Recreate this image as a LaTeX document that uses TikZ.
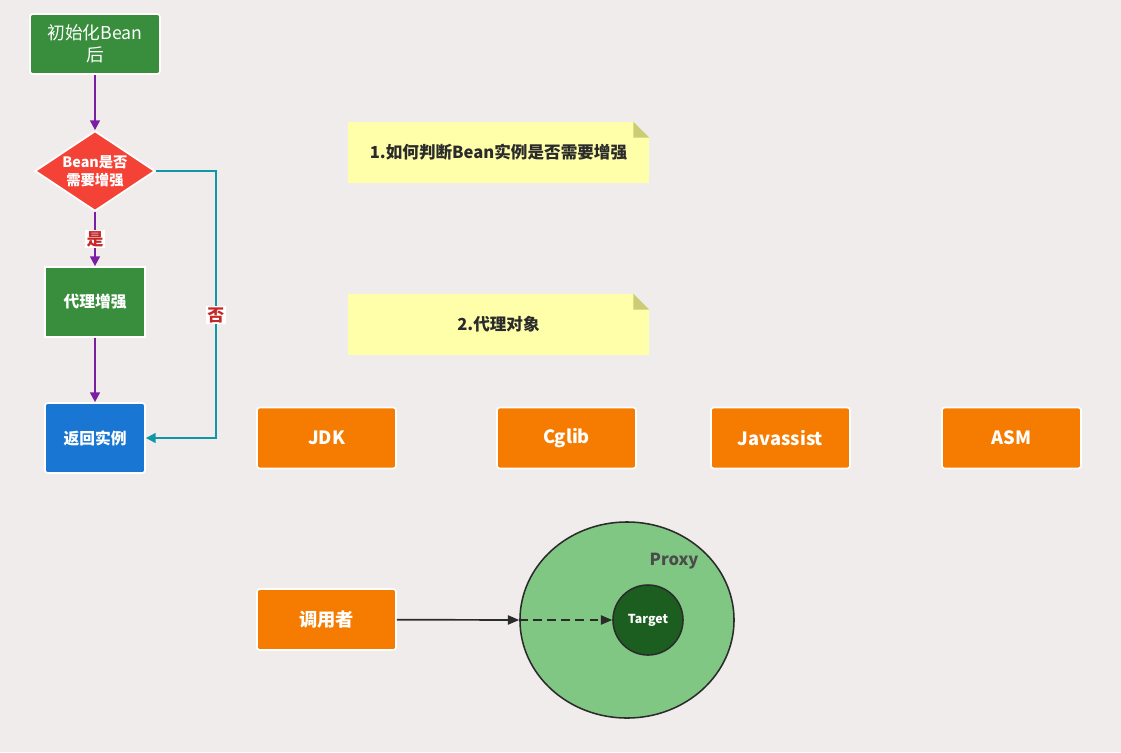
\documentclass[tikz,border=0pt]{standalone}
\usepackage{fontspec}
\setmainfont{Noto Sans CJK SC}
\usepackage{xcolor}
\definecolor{canvas}{HTML}{F0ECEB}
\definecolor{flowgreen}{HTML}{388E3C}
\definecolor{flowred}{HTML}{F44336}
\definecolor{flowblue}{HTML}{1976D2}
\definecolor{liborange}{HTML}{F57C00}
\definecolor{yesno}{HTML}{7B1FA2}
\definecolor{nopath}{HTML}{0E97A8}
\definecolor{tagred}{HTML}{C62828}
\definecolor{noteyellow}{HTML}{FFFFAA}
\definecolor{notefold}{HTML}{CCCC77}
\definecolor{proxygreen}{HTML}{81C784}
\definecolor{targetgreen}{HTML}{1B5E20}
\definecolor{edge}{HTML}{2B2B2B}
\usepackage{tikz}
\usetikzlibrary{positioning, arrows.meta, shapes.geometric}

\begin{document}
\begin{tikzpicture}[x=0.025cm, y=-0.025cm,
  box/.style={rectangle, draw=white, line width=1.2pt, text=white, align=center, inner sep=2pt, font=\bfseries\fontsize{11.2}{14}\selectfont},
  decide/.style={diamond, aspect=1.5, draw=white, line width=1.2pt, fill=flowred, text=white, align=center, inner sep=0pt, minimum width=3cm, minimum height=2cm, font=\bfseries\fontsize{10.2}{12.8}\selectfont},
  lib/.style={box, rounded corners=2pt, fill=liborange, minimum width=3.475cm, minimum height=1.525cm, font=\bfseries\fontsize{13}{16}\selectfont},
  note/.style={rectangle, fill=noteyellow, minimum width=7.525cm, minimum height=1.525cm, text=edge, font=\bfseries\fontsize{11.8}{14}\selectfont},
  flow/.style={yesno, line width=1.3pt, -{Triangle[length=7pt, width=7pt]}},
  noflow/.style={nopath, line width=1.3pt, -{Triangle[length=7pt, width=7pt]}},
  tag/.style={fill=white, text=tagred, inner sep=1pt, font=\bfseries\fontsize{12}{13}\selectfont},
  call/.style={edge, line width=1.2pt, -{Triangle[length=8pt, width=6.5pt]}}
]
  \fill[canvas] (0,0) rectangle (1121,752);
  \useasboundingbox (0,0) rectangle (1121,752);

  % flow of the post processor
  \node[box, rounded corners=2pt, fill=flowgreen, minimum width=3.25cm, minimum height=1.5cm, font=\fontsize{12.6}{15.5}\selectfont] (init) at (95,44) {初始化Bean\\后};
  \node[decide] (check) at (95,171) {Bean是否\\需要增强};
  \node[box, fill=flowgreen, minimum width=2.5cm, minimum height=1.75cm] (enhance) at (95,302) {代理增强};
  \node[box, rounded corners=2pt, fill=flowblue, minimum width=2.5cm, minimum height=1.75cm] (ret) at (95,438) {返回实例};

  \draw[flow] (init) -- (check);
  \draw[flow] (check) -- node[tag] {是} (enhance);
  \draw[flow] (enhance) -- (ret);
  \draw[noflow] (check.east) -- ++(60,0) |- node[tag, pos=0.27] {否} (ret.east);

  % notes
  \node[note] (q1) at (498.5,152.5) {1.如何判断Bean实例是否需要增强};
  \node[note] (q2) at (498.5,324.5) {2.代理对象};
  \foreach \n in {q1,q2}{
    \fill[canvas] (\n.north east) -- ++(-16,0) -- ++(16,16) -- cycle;
    \fill[notefold] (\n.north east) ++(-16,0) -- ++(16,16) -- ++(-16,0) -- cycle;
  }

  % proxy libraries
  \foreach \name/\x/\txt in {jdk/326.5/JDK, cglib/566.5/Cglib, javassist/780.5/Javassist, asm/1011.5/ASM}{
    \node[lib] (\name) at (\x,438) {\txt};
  }

  % caller -> proxy -> target
  \node[lib] (caller) at (326.5,619.5) {调用者};
  \node[ellipse, draw=edge, line width=1.1pt, fill=proxygreen, minimum width=5.35cm, minimum height=4.9cm] (proxy) at (627,620) {};
  \node[text=edge!85, font=\bfseries\fontsize{11.8}{14}\selectfont] (proxylbl) at (674,561) {Proxy};
  \node[circle, draw=edge, line width=1.1pt, fill=targetgreen, minimum size=1.75cm, inner sep=0pt, text=white, font=\bfseries\fontsize{8.8}{10}\selectfont] (target) at (648,620) {Target};

  \draw[call] (caller) -- (proxy.west);
  \draw[call, dash pattern=on 6pt off 4pt] (proxy.west) -- (target);
\end{tikzpicture}
\end{document}
